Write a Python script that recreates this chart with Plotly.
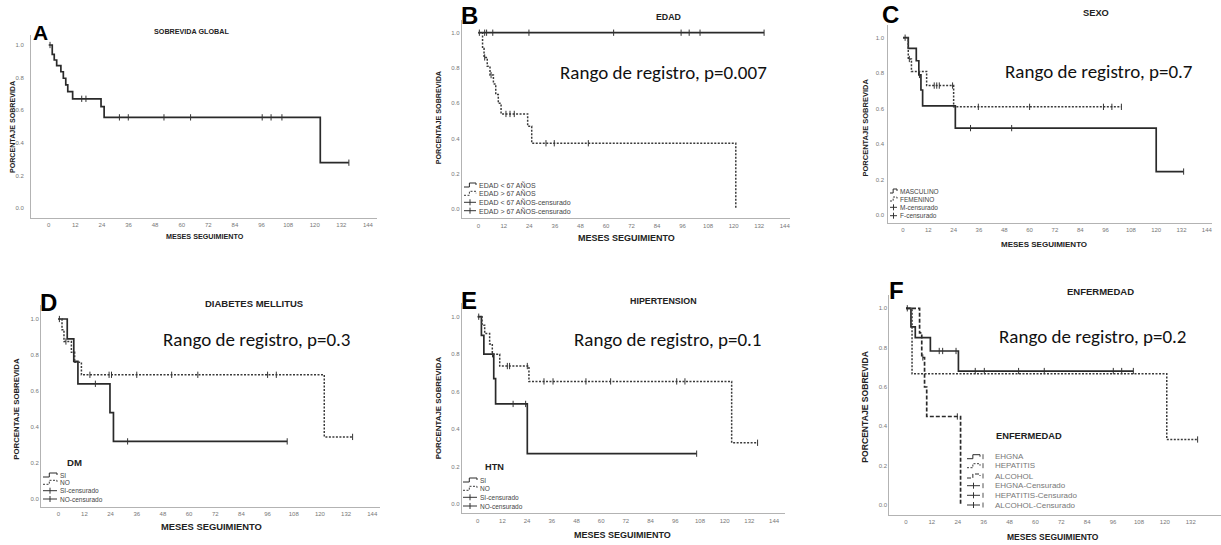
import plotly.graph_objects as go

W, H = 1221, 545

# ---------------- data (months, survival proportion) ----------------
x_ticks = [0, 12, 24, 36, 48, 60, 72, 84, 96, 108, 120, 132, 144]
y_ticks = [0.0, 0.2, 0.4, 0.6, 0.8, 1.0]

# A  SOBREVIDA GLOBAL
A_t = [0, 1.6, 2.5, 3.6, 5.5, 6.6, 7.7, 8.6, 10.8, 23.6, 25.0, 122.5, 135.4]
A_s = [1.0, 0.943, 0.908, 0.873, 0.836, 0.796, 0.755, 0.714, 0.670, 0.622, 0.556, 0.278, 0.278]
A_c = [0.6, 14.9, 16.8, 31.9, 35.9, 52.0, 64.0, 96.3, 100.3, 105.2, 135.4]

# B  EDAD
B_lt_t = [0, 134.3]
B_lt_s = [1.0, 1.0]
B_lt_c = [0.5, 3.0, 3.9, 6.8, 23.8, 63.6, 95.3, 99.1, 104.2, 134.3]
B_gt_t = [0, 2.0, 2.7, 4.2, 5.5, 7.1, 8.2, 9.4, 10.7, 23.2, 25.1, 121.0]
B_gt_s = [1.0, 0.91, 0.86, 0.81, 0.76, 0.71, 0.65, 0.60, 0.54, 0.47, 0.374, 0.0]
B_gt_c = [3.0, 6.0, 13.0, 14.9, 16.9, 31.8, 35.7, 51.7]

# C  SEXO
C_m_t = [0, 2.5, 6.3, 7.5, 8.5, 9.3, 24.8, 120.0, 133.0]
C_m_s = [1.0, 0.94, 0.87, 0.79, 0.705, 0.615, 0.49, 0.245, 0.245]
C_m_c = [7.8, 32.0, 51.5, 133.0]
C_f_t = [0, 2.5, 4.0, 11.2, 24.0, 103.5]
C_f_s = [1.0, 0.88, 0.81, 0.73, 0.61, 0.61]
C_f_c = [1.0, 3.0, 14.8, 16.0, 17.2, 23.5, 35.7, 60.0, 95.0, 99.0, 103.5]

# D  DIABETES MELLITUS
D_si_t = [0, 4.1, 7.1, 9.0, 23.7, 25.3, 105.0]
D_si_s = [1.0, 0.89, 0.765, 0.64, 0.48, 0.32, 0.32]
D_si_c = [17.0, 31.8, 105.0]
D_no_t = [0, 1.7, 2.6, 6.0, 7.5, 10.6, 122.0, 135.0]
D_no_s = [1.0, 0.94, 0.875, 0.815, 0.76, 0.69, 0.345, 0.345]
D_no_c = [0.5, 3.5, 14.5, 23.3, 24.4, 36.0, 52.0, 64.0, 96.0, 100.0, 135.0]

# E  HIPERTENSION
E_si_t = [0, 1.8, 3.0, 7.8, 8.7, 24.1, 106.4]
E_si_s = [1.0, 0.90, 0.80, 0.67, 0.535, 0.27, 0.27]
E_si_c = [7.2, 17.2, 23.3, 106.4]
E_no_t = [0, 2.1, 3.4, 5.8, 7.1, 10.7, 24.9, 123.4, 136.0]
E_no_s = [1.0, 0.955, 0.91, 0.855, 0.80, 0.737, 0.655, 0.328, 0.328]
E_no_c = [0.5, 14.4, 15.5, 24.1, 32.2, 36.6, 52.6, 64.6, 96.7, 100.7, 136.0]

# F  ENFERMEDAD
F_eh_t = [0, 2.3, 4.3, 11.3, 24.3, 105.4]
F_eh_s = [1.0, 0.906, 0.851, 0.783, 0.681, 0.681]
F_eh_c = [0.6, 15.4, 17.0, 23.2, 32.1, 36.3, 52.2, 64.1, 96.1, 100.0, 105.4]
F_hep_t = [0, 2.8, 120.9, 135.2]
F_hep_s = [1.0, 0.667, 0.333, 0.333]
F_hep_c = [135.2]
F_alc_t = [0, 6.3, 7.3, 8.6, 9.6, 25.3]
F_alc_s = [1.0, 0.875, 0.75, 0.60, 0.45, 0.0]
F_alc_c = [7.8, 23.8]

titles = ["SOBREVIDA GLOBAL", "EDAD", "SEXO", "DIABETES MELLITUS", "HIPERTENSION", "ENFERMEDAD"]
letters = ["A", "B", "C", "D", "E", "F"]
pvalues = [None, "Rango de registro, p=0.007", "Rango de registro, p=0.7",
           "Rango de registro, p=0.3", "Rango de registro, p=0.1", "Rango de registro, p=0.2"]
B_legend = ["EDAD < 67 AÑOS", "EDAD > 67 AÑOS", "EDAD < 67 AÑOS-censurado", "EDAD > 67 AÑOS-censurado"]
C_legend = ["MASCULINO", "FEMENINO", "M-censurado", "F-censurado"]
D_legend = ["SI", "NO", "SI-censurado", "NO-censurado"]
E_legend = ["SI", "NO", "SI-censurado", "NO-censurado"]
F_legend = ["EHGNA", "HEPATITIS", "ALCOHOL", "EHGNA-Censurado", "HEPATITIS-Censurado", "ALCOHOL-Censurado"]
x_title = "MESES SEGUIMIENTO"
y_title = "PORCENTAJE SOBREVIDA"

# ---------------- layout geometry (pixels) ----------------
# xl, xr, yt, yb : axis box ; x0, s : pixel of month 0 and px/month ; y0, y1 : pixel of 0.0 / 1.0
geo = [
    dict(xl=31, xr=377, yt=35, yb=218, x0=48.7, s=2.217, y0=208, y1=45, ystand=5),
    dict(xl=461.7, xr=790, yt=20, yb=218.3, x0=478.3, s=2.128, y0=209.3, y1=32.7, ystand=0),
    dict(xl=888.3, xr=1212, yt=25, yb=222.7, x0=903, s=2.11, y0=215, y1=37.7, ystand=2),
    dict(xl=41, xr=380, yt=305, yb=506.7, x0=58.3, s=2.18, y0=499, y1=319, ystand=0),
    dict(xl=461.7, xr=785, yt=303, yb=513.3, x0=477.7, s=2.058, y0=504.3, y1=316.7, ystand=0),
    dict(xl=889.3, xr=1221, yt=295, yb=515, x0=906, s=2.157, y0=505, y1=308.3, ystand=0),
]

SOLID = dict(color="#2a2a2a", width=1.7)
DOT = dict(color="#3a3a3a", width=1.5, dash="2px,1.5px")
DASH = dict(color="#2a2a2a", width=1.7, dash="4px,2px")

curves = [
    [(A_t, A_s, A_c, SOLID)],
    [(B_lt_t, B_lt_s, B_lt_c, SOLID), (B_gt_t, B_gt_s, B_gt_c, DOT)],
    [(C_m_t, C_m_s, C_m_c, SOLID), (C_f_t, C_f_s, C_f_c, DOT)],
    [(D_si_t, D_si_s, D_si_c, SOLID), (D_no_t, D_no_s, D_no_c, DOT)],
    [(E_si_t, E_si_s, E_si_c, SOLID), (E_no_t, E_no_s, E_no_c, DOT)],
    [(F_eh_t, F_eh_s, F_eh_c, SOLID), (F_hep_t, F_hep_s, F_hep_c, DOT), (F_alc_t, F_alc_s, F_alc_c, DASH)],
]


def surv_at(ts, ss, t):
    idx = 0
    for k, tk in enumerate(ts):
        if tk <= t:
            idx = k
    return ss[idx]


def px(x):
    return x / W


def py(y):
    return 1 - y / H


fig = go.Figure()
layout = dict(width=W, height=H, margin=dict(l=0, r=0, t=0, b=0), autosize=False,
              paper_bgcolor="white", plot_bgcolor="white", showlegend=False,
              font=dict(family="Liberation Sans, Arial, sans-serif", color="#333"))
annotations = []
shapes = []

for i, g in enumerate(geo):
    n = i + 1
    xa = "x" if n == 1 else f"x{n}"
    ya = "y" if n == 1 else f"y{n}"
    layout["xaxis" if n == 1 else f"xaxis{n}"] = dict(
        domain=[px(g["xl"]), px(g["xr"])],
        range=[(g["xl"] - g["x0"]) / g["s"], (g["xr"] - g["x0"]) / g["s"]],
        anchor=ya, tickvals=x_ticks, ticktext=[str(v) for v in x_ticks],
        showline=True, linecolor="#b3b3b3", linewidth=1, ticks="",
        showgrid=False, zeroline=False, ticklabelstandoff=1,
        tickfont=dict(size=6, color="#777"))
    span = g["y0"] - g["y1"]
    layout["yaxis" if n == 1 else f"yaxis{n}"] = dict(
        domain=[py(g["yb"]), py(g["yt"])],
        range=[(g["y0"] - g["yb"]) / span, (g["y0"] - g["yt"]) / span],
        anchor=xa, tickvals=y_ticks, tickformat=".1f",
        showline=True, linecolor="#b3b3b3", linewidth=1, ticks="",
        showgrid=False, zeroline=False, ticklabelstandoff=g["ystand"],
        tickfont=dict(size=6, color="#777"))
    for ts, ss, cs, style in curves[i]:
        fig.add_trace(go.Scatter(x=ts, y=ss, mode="lines", line=dict(shape="hv", **style),
                                 xaxis=xa, yaxis=ya, hoverinfo="skip"))
        fig.add_trace(go.Scatter(x=cs, y=[surv_at(ts, ss, c) for c in cs], mode="markers",
                                 marker=dict(symbol="line-ns", size=4.5,
                                             line=dict(width=1, color="#333")),
                                 xaxis=xa, yaxis=ya, hoverinfo="skip"))

# titles / letters / axis titles / p-values
title_pos = [(191, 31, 7.2), (668, 16.7, 8.8), (1096, 13.3, 9.3),
             (254, 303.3, 9.5), (664, 300.7, 8.9), (1100, 291.7, 9.5)]
letter_pos = [(40.5, 32, 21), (469, 15, 24), (890, 14, 24),
              (48.7, 302.5, 24), (469, 300, 24), (896, 290, 24)]
xt_pos = [(205, 236, 7.2), (626, 238.3, 9.0), (1043.7, 245, 8.0),
          (211.7, 526.7, 9.4), (622.5, 535, 9.0), (1053.3, 536.7, 8.5)]
yt_pos = [(12.3, 126.7, 7.1), (438.3, 118, 7.2), (865, 127.5, 7.5),
          (15.7, 409, 7.8), (438.3, 408, 7.9), (865, 406.7, 8.6)]
p_pos = [None, (557.7, 73), (1002.7, 71.7), (161, 339), (571.7, 339), (996.7, 336)]

for i in range(6):
    x, y, s = title_pos[i]
    annotations.append(dict(x=px(x), y=py(y), xref="paper", yref="paper", text=f"<b>{titles[i]}</b>",
                            showarrow=False, xanchor="center", yanchor="middle",
                            font=dict(size=s, color="#222")))
    x, y, s = letter_pos[i]
    annotations.append(dict(x=px(x), y=py(y), xref="paper", yref="paper", text=f"<b>{letters[i]}</b>",
                            showarrow=False, xanchor="center", yanchor="middle",
                            font=dict(size=s, color="#000")))
    x, y, s = xt_pos[i]
    annotations.append(dict(x=px(x), y=py(y), xref="paper", yref="paper", text=f"<b>{x_title}</b>",
                            showarrow=False, xanchor="center", yanchor="middle",
                            font=dict(size=s, color="#222")))
    x, y, s = yt_pos[i]
    annotations.append(dict(x=px(x), y=py(y), xref="paper", yref="paper", text=f"<b>{y_title}</b>",
                            showarrow=False, xanchor="center", yanchor="middle", textangle=-90,
                            font=dict(size=s, color="#222")))
    if pvalues[i]:
        x, y = p_pos[i]
        annotations.append(dict(x=px(x), y=py(y), xref="paper", yref="paper", text=pvalues[i],
                                showarrow=False, xanchor="left", yanchor="middle",
                                font=dict(size=19, color="#111", family="Carlito, Lato, sans-serif")))


def step_glyph(x0, x1, y, style, bar=False):
    xm = x0 + (x1 - x0) * 0.45
    path = (f"M {px(x0)},{py(y + 2)} L {px(xm)},{py(y + 2)} L {px(xm)},{py(y - 2)} "
            f"L {px(x1)},{py(y - 2)} L {px(x1)},{py(y)}")
    shapes.append(dict(type="path", path=path, xref="paper", yref="paper",
                       line=dict(color=style["color"], width=1, dash=style.get("dash", "solid"))))
    if bar:
        shapes.append(dict(type="line", xref="paper", yref="paper", x0=px(x1 + 3), x1=px(x1 + 3),
                           y0=py(y - 2.5), y1=py(y + 2.5), line=dict(color="#555", width=1)))


def cens_glyph(x0, x1, y, bar=False):
    xm = (x0 + x1) / 2
    shapes.append(dict(type="line", xref="paper", yref="paper", x0=px(x0), x1=px(x1),
                       y0=py(y), y1=py(y), line=dict(color="#333", width=1)))
    shapes.append(dict(type="line", xref="paper", yref="paper", x0=px(xm), x1=px(xm),
                       y0=py(y - 3), y1=py(y + 3), line=dict(color="#333", width=1)))
    if bar:
        shapes.append(dict(type="line", xref="paper", yref="paper", x0=px(x1 + 3), x1=px(x1 + 3),
                           y0=py(y - 2.5), y1=py(y + 2.5), line=dict(color="#555", width=1)))


def legend(labels, rows, gx0, gx1, tx, fsize, styles, bar=False, color="#444"):
    for lab, ry, st in zip(labels, rows, styles):
        if st == "cens":
            cens_glyph(gx0, gx1, ry, bar)
        else:
            step_glyph(gx0, gx1, ry, st, bar)
        annotations.append(dict(x=px(tx), y=py(ry), xref="paper", yref="paper", text=lab,
                                showarrow=False, xanchor="left", yanchor="middle",
                                font=dict(size=fsize, color=color)))


two = [SOLID, DOT, "cens", "cens"]
legend(B_legend, [185, 193.3, 202.3, 210.7], 464, 476, 476.5, 7, two)
legend(C_legend, [191, 199, 207.3, 215.7], 890, 897, 897.5, 6.5, two)
legend(D_legend, [475, 482.3, 490.7, 499], 43, 57, 57.5, 6.5, two)
legend(E_legend, [480, 488.3, 497.3, 506], 463, 477, 477.5, 6.5, two)
legend(F_legend, [456.7, 465.7, 476, 485.7, 495.3, 505], 967, 980, 993, 8,
       [SOLID, DOT, DASH, "cens", "cens", "cens"], bar=True, color="#777")

annotations.append(dict(x=px(74), y=py(462.7), xref="paper", yref="paper", text="<b>DM</b>",
                        showarrow=False, xanchor="center", yanchor="middle", font=dict(size=9.6, color="#222")))
annotations.append(dict(x=px(494), y=py(467.3), xref="paper", yref="paper", text="<b>HTN</b>",
                        showarrow=False, xanchor="center", yanchor="middle", font=dict(size=9.2, color="#222")))
annotations.append(dict(x=px(994), y=py(435.7), xref="paper", yref="paper", text="<b>ENFERMEDAD</b>",
                        showarrow=False, xanchor="left", yanchor="middle", font=dict(size=9.3, color="#222")))

layout["annotations"] = annotations
layout["shapes"] = shapes
fig.update_layout(**layout)
fig.write_html("out.html")
